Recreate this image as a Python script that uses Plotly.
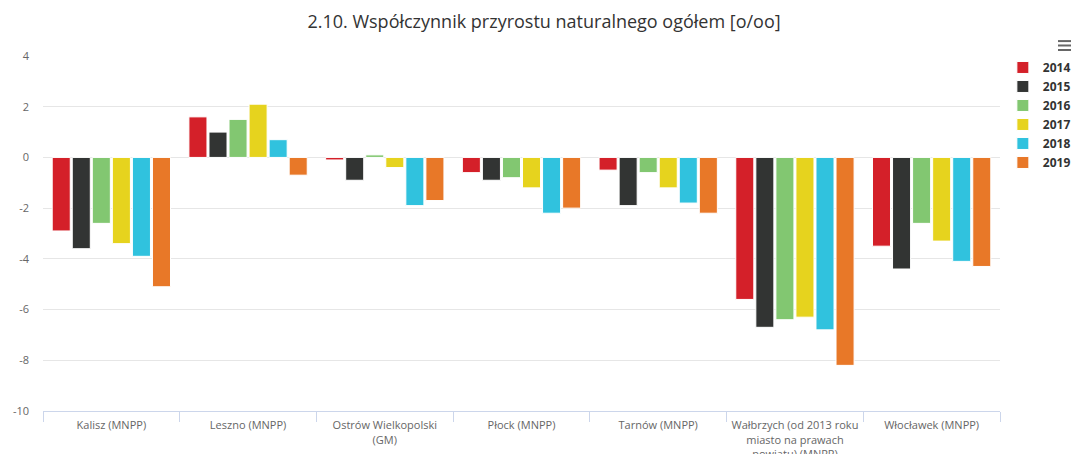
import plotly.graph_objects as go

categories = [
    "Kalisz (MNPP)",
    "Leszno (MNPP)",
    "Ostrów Wielkopolski<br>(GM)",
    "Płock (MNPP)",
    "Tarnów (MNPP)",
    "Wałbrzych (od 2013 roku<br>miasto na prawach<br>powiatu) (MNPP)",
    "Włocławek (MNPP)",
]
years = ["2014", "2015", "2016", "2017", "2018", "2019"]
v2014 = [-2.9, 1.6, -0.1, -0.6, -0.5, -5.6, -3.5]
v2015 = [-3.6, 1.0, -0.9, -0.9, -1.9, -6.7, -4.4]
v2016 = [-2.6, 1.5, 0.1, -0.8, -0.6, -6.4, -2.6]
v2017 = [-3.4, 2.1, -0.4, -1.2, -1.2, -6.3, -3.3]
v2018 = [-3.9, 0.7, -1.9, -2.2, -1.8, -6.8, -4.1]
v2019 = [-5.1, -0.7, -1.7, -2.0, -2.2, -8.2, -4.3]
series = [v2014, v2015, v2016, v2017, v2018, v2019]
colors = ["#d42029", "#323433", "#82c771", "#e6d31e", "#30c2de", "#e87828"]

y_ticks = [4, 2, 0, -2, -4, -6, -8, -10]
y_tick_labels = ["4", "2", "0", "-2", "-4", "-6", "-8", "-10"]

fig = go.Figure()
for name, vals, col in zip(years, series, colors):
    fig.add_trace(go.Bar(
        x=categories, y=vals, name=name,
        marker=dict(color=col, line=dict(color="#ffffff", width=1)),
    ))

font_family = "Open Sans, Verdana, sans-serif"

fig.update_layout(
    width=1072, height=454,
    paper_bgcolor="white", plot_bgcolor="white",
    margin=dict(l=43, r=72, t=56, b=43, autoexpand=False),
    barmode="group", bargap=0.12, bargroupgap=0.1,
    font=dict(family=font_family, color="#666666", size=11),
    title=dict(
        text="2.10. Współczynnik przyrostu naturalnego ogółem [o/oo]",
        x=0.5075, xref="container", xanchor="center",
        y=0.9515, yref="container", yanchor="middle",
        font=dict(family=font_family, size=18, color="#333333"),
    ),
    legend=dict(
        x=1.003, xanchor="left", y=1.0085, yanchor="top",
        font=dict(family=font_family, size=12, color="#333333", weight="bold"),
        itemwidth=30, tracegroupgap=0, bgcolor="rgba(0,0,0,0)",
    ),
    showlegend=True,
)
fig.update_xaxes(
    type="category", tickson="boundaries", ticks="outside", ticklen=10,
    tickcolor="#ccd6eb", showline=True, linecolor="#ccd6eb", linewidth=1,
    showgrid=False, automargin=False, ticklabelstandoff=4,
    tickfont=dict(family=font_family, size=11, color="#666666"),
)
fig.update_yaxes(
    range=[-10, 4], tickvals=y_ticks, ticktext=y_tick_labels,
    showgrid=True, gridcolor="#e6e6e6", zeroline=False, showline=False,
    ticks="", ticklabelstandoff=13, automargin=False,
    tickfont=dict(family=font_family, size=11, color="#666666"),
)

# export menu icon (hamburger)
for yy in [1.042, 1.0296, 1.0169]:
    fig.add_shape(type="line", xref="paper", yref="paper",
                  x0=1.0606, x1=1.0742, y0=yy, y1=yy,
                  line=dict(color="#666666", width=2))

fig.write_html(
    "out.html",
    config={"displayModeBar": False},
    post_script="document.body.style.margin='0';document.body.style.overflow='hidden';",
)
